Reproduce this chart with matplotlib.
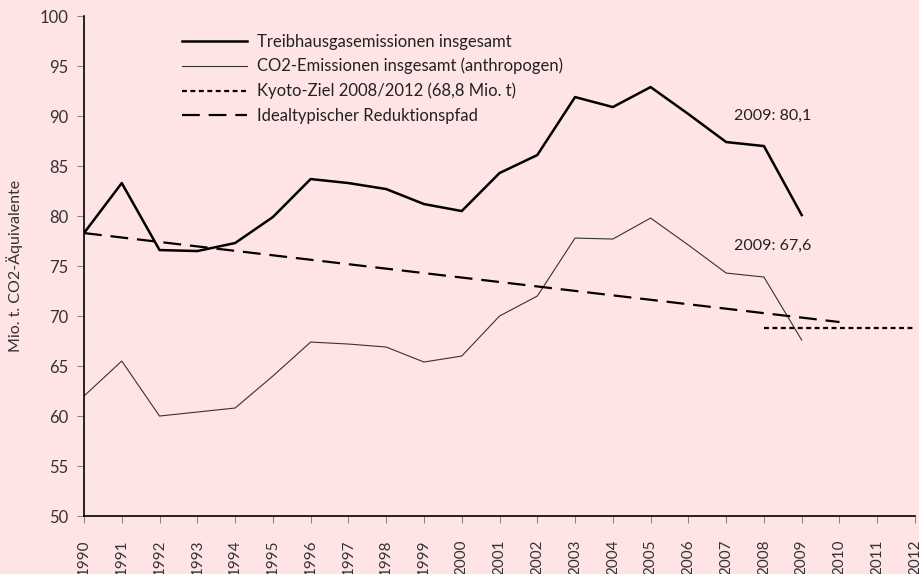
import numpy as np
import matplotlib.pyplot as plt

years = list(range(1990, 2013))
years_data = list(range(1990, 2010))
thg = [78.3, 83.3, 76.6, 76.5, 77.3, 79.9, 83.7, 83.3, 82.7, 81.2,
       80.5, 84.3, 86.1, 91.9, 90.9, 92.9, 90.2, 87.4, 87.0, 80.1]
co2 = [62.0, 65.5, 60.0, 60.4, 60.8, 64.0, 67.4, 67.2, 66.9, 65.4,
       66.0, 70.0, 72.0, 77.8, 77.7, 79.8, 77.1, 74.3, 73.9, 67.6]
kyoto_years = [2008, 2012]
kyoto = [68.8, 68.8]
ideal_years = [1990, 2010]
ideal = [78.3, 69.4]

bg = '#ffe4e6'
plt.rcParams['font.family'] = ['Lato', 'DejaVu Sans']

fig = plt.figure(figsize=(9.2, 5.74), dpi=100, facecolor=bg)
ax = fig.add_axes([0.0913, 0.101, 0.9033, 0.871], facecolor=bg)

x = np.array(years_data) - 1990
ax.plot(x, thg, color='black', lw=1.8, label='Treibhausgasemissionen insgesamt')
ax.plot(x, co2, color='#333333', lw=0.8, label='CO2-Emissionen insgesamt (anthropogen)')
ax.plot(np.array(kyoto_years) - 1990, kyoto, color='black', lw=1.6, ls=(0, (2.2, 1.6)),
        label='Kyoto-Ziel 2008/2012 (68,8 Mio. t)')
ax.plot(np.array(ideal_years) - 1990, ideal, color='black', lw=1.6, ls=(0, (8, 4)),
        label='Idealtypischer Reduktionspfad')

ax.text(17.2, 90.0, '2009: 80,1', fontsize=11.5, color='#222222', va='center')
ax.text(17.2, 77.0, '2009: 67,6', fontsize=11.5, color='#222222', va='center')

ax.set_xlim(0, 22)
ax.set_ylim(50, 100)
ax.set_xticks(range(len(years)))
ax.set_xticklabels([str(y) for y in years], rotation=90, fontsize=11, color='#333333')
ax.set_yticks(range(50, 101, 5))
ax.tick_params(axis='y', labelsize=12, length=5, direction='out', pad=6,
               colors='#888888', labelcolor='#333333')
ax.tick_params(axis='x', length=5, direction='out', pad=12,
               colors='#888888', labelcolor='#333333')
for s in ['top', 'right']:
    ax.spines[s].set_visible(False)
for s in ['left', 'bottom']:
    ax.spines[s].set_linewidth(1.2)
ax.set_ylabel('Mio. t. CO2-Äquivalente', fontsize=11.5, color='#333333', labelpad=12)

leg = ax.legend(loc='upper left', bbox_to_anchor=(0.1, 0.995), frameon=False,
                fontsize=12, handlelength=3.9, handletextpad=0.6, labelspacing=0.5)
for t in leg.get_texts():
    t.set_color('#222222')

fig.savefig('out.png', dpi=100, facecolor=bg)
